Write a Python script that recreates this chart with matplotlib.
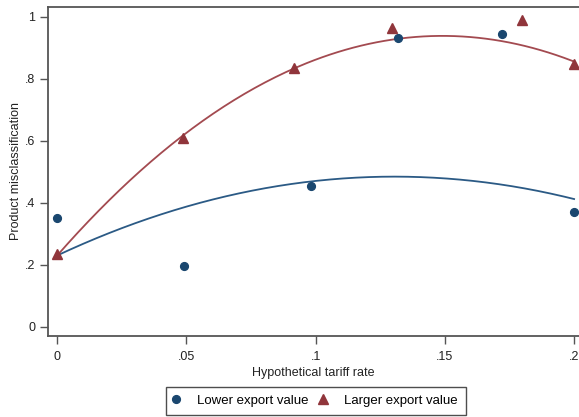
import numpy as np
import matplotlib
matplotlib.use("Agg")
import matplotlib.pyplot as plt

plt.rcParams["font.family"] = ["Liberation Sans", "DejaVu Sans"]

# scatter points
lower_x = [0.0, 0.049, 0.098, 0.132, 0.172, 0.200]
lower_y = [0.350, 0.196, 0.454, 0.930, 0.944, 0.369]
larger_x = [0.0, 0.0487, 0.0916, 0.1294, 0.180, 0.200]
larger_y = [0.235, 0.608, 0.834, 0.963, 0.989, 0.847]

# fitted (quadratic) curves
curve_x = [0.0, 0.025, 0.05, 0.075, 0.1, 0.125, 0.15, 0.175, 0.2]
lower_fit = [0.230, 0.318, 0.387, 0.438, 0.470, 0.483, 0.479, 0.455, 0.411]
larger_fit = [0.230, 0.448, 0.625, 0.763, 0.861, 0.920, 0.938, 0.916, 0.855]

xticks = [0, 0.05, 0.1, 0.15, 0.2]
xtick_labels = ["0", ".05", ".1", ".15", ".2"]
yticks = [0, 0.2, 0.4, 0.6, 0.8, 1.0]
ytick_labels = ["0", ".2", ".4", ".6", ".8", "1"]

navy = "#1a476f"
maroon = "#90353b"
spine_col = "#555555"

fig = plt.figure(figsize=(5.79, 4.17), dpi=100)
ax = fig.add_axes([48 / 579, 81.3 / 417, 531 / 579, 328.7 / 417])

# smooth the sampled fit lines with a quadratic, like Stata's qfit
xs = np.linspace(0, 0.2, 200)
lo_c = np.polyfit(curve_x, lower_fit, 2)
la_c = np.polyfit(curve_x, larger_fit, 2)
ax.plot(xs, np.polyval(lo_c, xs), color="#2b5a85", lw=1.3, zorder=2)
ax.plot(xs, np.polyval(la_c, xs), color="#a34a50", lw=1.3, zorder=2)

ax.plot(lower_x, lower_y, "o", color=navy, ms=5.6, ls="none",
        label="Lower export value", zorder=3)
ax.plot(larger_x, larger_y, "^", color=maroon, ms=6.5, ls="none",
        label="Larger export value", zorder=3)

ax.set_xlim(-0.0036, 0.2019)
ax.set_ylim(-0.029, 1.031)
ax.set_xticks(xticks)
ax.set_xticklabels(xtick_labels)
ax.set_yticks(yticks)
ax.set_yticklabels(ytick_labels)

for side in ["left", "bottom", "top"]:
    ax.spines[side].set_color(spine_col)
    ax.spines[side].set_linewidth(1.3)
ax.spines["right"].set_visible(False)

ax.tick_params(direction="out", length=6, width=1.0, color=spine_col,
               labelsize=9, labelcolor="#222222", pad=3)
ax.tick_params(axis="x", pad=5)

ax.set_xlabel("Hypothetical tariff rate", fontsize=9, color="#222222", labelpad=3)
ax.set_ylabel("Product misclassification", fontsize=9, color="#222222", labelpad=2)

leg = fig.legend(loc="lower center", bbox_to_anchor=(316 / 579, 2 / 417),
                 ncol=2, fontsize=9.5, frameon=True, fancybox=False,
                 handlelength=0.2, handletextpad=1.5, columnspacing=1.0,
                 borderpad=0.6, borderaxespad=0)
leg.get_frame().set_edgecolor("#222222")
leg.get_frame().set_linewidth(1.0)

fig.savefig("out.png", dpi=100)
